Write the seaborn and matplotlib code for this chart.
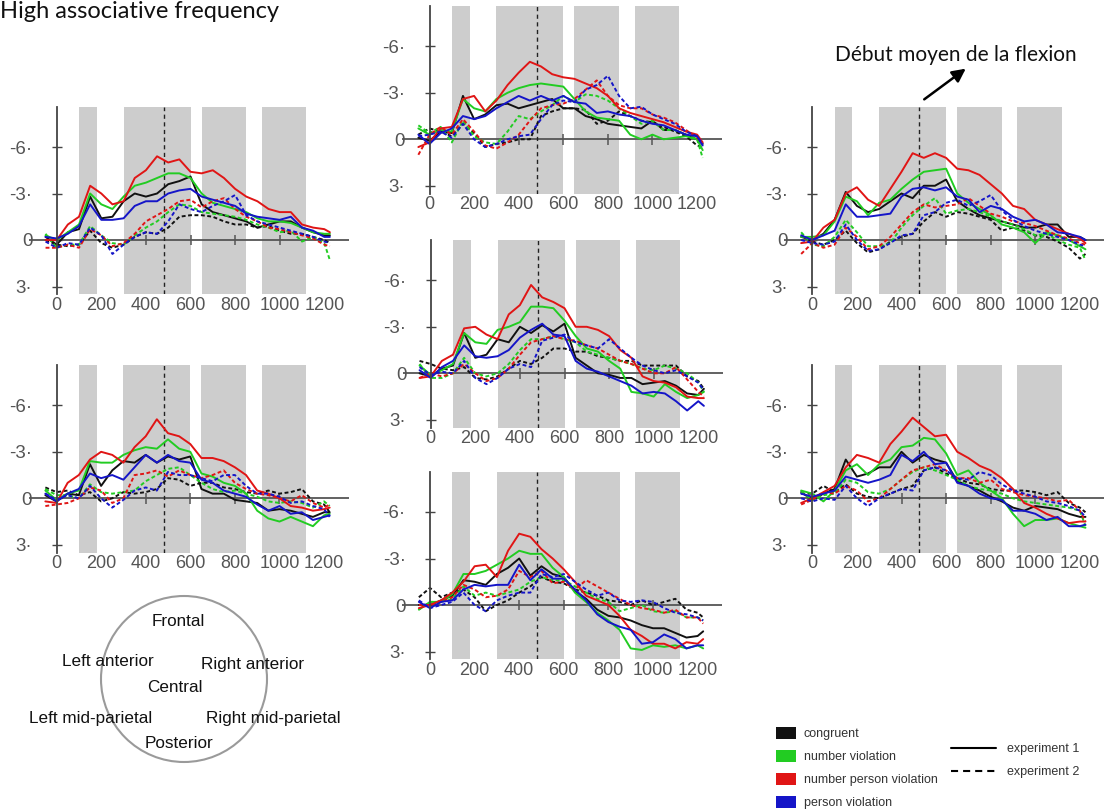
import numpy as np
import pandas as pd
import matplotlib.pyplot as plt
import seaborn as sns
from matplotlib.patches import Patch, Circle
from matplotlib.lines import Line2D

times = [-50, 0, 50, 100, 150, 200, 250, 300, 350, 400, 450, 500, 550, 600, 650,
         700, 750, 800, 850, 900, 950, 1000, 1050, 1100, 1150, 1200, 1225]

conds = ['congruent', 'number violation', 'number person violation', 'person violation']
colors = ['#111111', '#22cc22', '#e01515', '#1515c8']
exps = ['experiment 1', 'experiment 2']
xtick_vals = [0, 200, 400, 600, 800, 1000, 1200]
ytick_vals = [-6, -3, 0, 3]
ytick_text = ['-6\u00b7', '-3\u00b7', '0', '3\u00b7']
bands = [(100, 180), (300, 600), (650, 850), (920, 1120)]
onset = 480

# Left anterior
la_cong_1 = [-0.2, 0.3, -0.5, -0.7, -2.8, -1.4, -1.5, -2.5, -3.0, -2.8, -3.0, -3.6, -3.8, -4.1, -2.3, -1.8, -1.6, -1.4, -1.2, -0.8, -1.0, -1.2, -1.2, -0.8, -0.5, -0.3, -0.3]
la_num_1 = [-0.3, 0.0, -0.5, -1.0, -3.0, -2.3, -2.0, -2.8, -3.5, -3.7, -4.0, -4.3, -4.3, -4.0, -3.0, -2.4, -2.2, -2.0, -1.8, -1.4, -1.2, -1.2, -1.1, -0.8, -0.5, -0.4, -0.4]
la_numper_1 = [0.0, 0.0, -1.0, -1.5, -3.5, -3.0, -2.3, -2.5, -4.0, -4.5, -5.4, -5.0, -5.2, -4.4, -4.3, -4.5, -4.0, -3.3, -2.8, -2.5, -2.0, -1.8, -1.8, -1.0, -0.8, -0.7, -0.5]
la_per_1 = [-0.2, -0.1, -0.4, -0.9, -2.3, -1.3, -1.3, -1.4, -2.2, -2.5, -2.5, -3.0, -3.2, -3.3, -2.8, -2.6, -2.4, -2.2, -1.7, -1.5, -1.4, -1.3, -1.5, -0.8, -0.6, -0.2, -0.2]
la_cong_2 = [0.0, 0.3, 0.4, 0.3, -0.6, 0.2, 0.5, 0.3, -0.2, -0.5, -0.4, -0.8, -1.5, -1.6, -1.6, -1.5, -1.2, -1.0, -1.0, -0.8, -0.9, -0.6, -0.4, -0.4, -0.2, 0.0, 0.2]
la_num_2 = [-0.4, 0.5, 0.3, 0.3, -0.9, -0.3, 0.2, 0.3, -0.3, -0.8, -1.2, -1.8, -2.3, -2.2, -1.8, -1.7, -1.6, -1.5, -1.3, -1.0, -0.8, -0.5, -0.6, 0.1, -0.2, 0.2, 1.3]
la_numper_2 = [0.5, 0.5, 0.3, 0.5, -0.7, -0.3, 0.4, 0.2, -0.4, -1.2, -1.6, -2.0, -2.5, -2.6, -2.1, -2.5, -2.7, -2.0, -1.5, -1.2, -0.8, -0.7, -0.5, -0.3, -0.1, 0.3, 0.4]
la_per_2 = [0.1, 0.5, 0.2, 0.3, -0.8, -0.3, 0.9, 0.3, -0.2, -0.5, -0.4, -1.2, -2.3, -2.0, -1.8, -2.2, -2.5, -2.9, -1.6, -1.2, -1.0, -0.8, -0.6, -0.4, -0.2, 0.1, 0.2]

# Frontal
fr_cong_1 = [-0.1, 0.1, -0.5, -0.4, -2.8, -1.3, -1.6, -2.2, -2.3, -2.0, -2.2, -2.4, -2.6, -2.0, -2.0, -1.5, -1.3, -1.0, -0.9, -0.8, -0.7, -1.2, -0.6, -0.6, -0.3, 0.0, 0.3]
fr_num_1 = [-0.7, -0.3, -0.6, -0.5, -2.6, -2.0, -1.8, -2.6, -3.0, -3.3, -3.5, -3.6, -3.5, -3.4, -2.6, -1.8, -1.4, -1.3, -1.2, -0.3, 0.0, -0.3, 0.0, -0.1, -0.2, 0.0, 0.7]
fr_numper_1 = [0.5, 0.2, -0.7, -0.8, -2.6, -2.8, -1.8, -2.5, -3.5, -4.3, -5.0, -4.7, -4.2, -4.0, -3.9, -3.6, -3.3, -2.8, -2.0, -1.7, -1.5, -1.3, -1.1, -0.8, -0.5, -0.3, 0.2]
fr_per_1 = [-0.3, 0.3, -0.4, -0.7, -1.5, -1.3, -1.5, -2.0, -2.4, -2.8, -2.5, -2.8, -2.5, -2.8, -2.4, -2.3, -1.7, -1.8, -1.6, -1.5, -1.2, -1.0, -0.9, -0.6, -0.3, -0.2, 0.4]
fr_cong_2 = [-0.3, -0.7, -0.5, -0.2, -1.0, -0.4, 0.5, 0.3, 0.2, 0.0, 0.0, -1.5, -1.8, -2.0, -2.0, -1.9, -1.0, -1.2, -1.8, -1.5, -1.2, -1.1, -0.8, -0.5, -0.2, 0.4, 0.5]
fr_num_2 = [-0.9, -0.4, -0.8, 0.2, -1.2, -0.2, 0.2, 0.3, -0.5, -1.5, -1.3, -1.8, -2.2, -2.8, -2.4, -2.9, -2.8, -2.5, -2.0, -1.5, -1.0, -1.2, -0.6, -0.6, -0.3, 0.0, 1.2]
fr_numper_2 = [1.0, -0.3, -0.8, -0.3, -1.3, -0.5, 0.4, 0.6, 0.2, -0.3, -1.2, -2.0, -2.2, -2.3, -2.6, -3.2, -3.8, -2.8, -2.2, -2.0, -2.0, -1.6, -1.4, -1.1, -0.6, -0.1, 0.3]
fr_per_2 = [-0.2, -0.3, -0.5, -0.1, -1.0, 0.0, 0.5, 0.3, 0.0, -0.2, -0.3, -1.3, -2.2, -2.5, -2.4, -3.2, -3.5, -4.1, -2.8, -2.0, -2.1, -1.6, -1.3, -1.0, -0.5, -0.2, 0.3]

# Right anterior
ra_cong_1 = [-0.2, 0.0, -0.4, -1.3, -3.1, -2.2, -1.8, -2.0, -2.5, -3.0, -2.7, -3.5, -3.5, -3.9, -2.5, -2.0, -1.6, -1.4, -1.2, -1.0, -0.8, -0.8, -1.0, -1.0, -0.2, -0.2, 0.0]
ra_num_1 = [-0.2, -0.2, -0.3, -1.2, -2.8, -2.5, -1.6, -2.4, -2.6, -3.3, -3.9, -4.4, -4.5, -4.6, -3.0, -2.4, -2.0, -1.6, -1.0, -0.8, -0.5, 0.2, -0.5, -0.3, 0.0, 0.4, 0.6]
ra_numper_1 = [0.2, 0.1, -0.8, -1.3, -3.0, -3.4, -2.6, -2.2, -3.3, -4.4, -5.6, -5.3, -5.6, -5.3, -4.6, -4.5, -4.2, -3.6, -3.0, -2.2, -2.0, -1.3, -1.0, -0.7, -0.4, -0.1, 0.2]
ra_per_1 = [-0.3, 0.0, -0.3, -0.6, -2.3, -1.5, -1.5, -1.6, -1.7, -2.8, -3.3, -3.4, -3.2, -3.4, -2.8, -2.6, -1.8, -2.2, -2.0, -1.5, -1.2, -1.3, -1.0, -0.5, -0.4, -0.2, 0.0]
ra_cong_2 = [-0.3, 0.1, 0.3, 0.0, -0.6, 0.2, 0.8, 0.6, 0.1, -0.2, -0.4, -1.2, -1.8, -1.5, -1.8, -1.7, -1.5, -1.3, -0.6, -0.8, -0.6, -0.3, -0.2, 0.1, 0.5, 1.2, 0.9]
ra_num_2 = [-0.5, 0.3, 0.4, -0.2, -1.3, -0.5, 0.4, 0.4, 0.2, -0.8, -1.6, -2.2, -2.7, -1.7, -1.9, -2.0, -1.8, -1.5, -1.2, -1.0, -0.7, -0.3, -0.4, 0.0, 0.3, 0.5, 1.3]
ra_numper_2 = [0.9, 0.2, 0.5, 0.3, -0.8, -0.2, 0.6, 0.4, -0.2, -1.0, -1.8, -2.3, -2.1, -2.2, -2.3, -2.7, -2.2, -1.7, -1.5, -1.2, -1.1, -0.9, -0.6, -0.3, -0.1, 0.2, 0.3]
ra_per_2 = [0.0, 0.2, 0.3, 0.1, -1.0, 0.0, 0.7, 0.6, 0.2, -0.3, -0.4, -1.6, -1.8, -2.4, -2.6, -2.2, -2.5, -2.9, -1.9, -1.3, -0.9, -0.6, -0.4, -0.2, 0.0, 0.3, 0.4]

# Central
ce_cong_1 = [0.0, 0.2, -0.3, -0.5, -2.6, -1.0, -1.2, -2.2, -2.0, -3.0, -2.6, -3.1, -2.7, -3.2, -1.0, -0.5, 0.0, 0.1, 0.3, 0.3, 0.7, 0.6, 0.5, 0.8, 1.3, 1.4, 1.0]
ce_num_1 = [-0.5, 0.1, -0.2, -0.6, -2.6, -2.0, -1.9, -2.8, -3.0, -3.3, -4.3, -4.3, -4.2, -3.4, -2.4, -1.6, -1.4, -0.8, -0.3, 1.2, 1.3, 1.5, 0.7, 1.2, 1.6, 1.4, 1.2]
ce_numper_1 = [0.3, 0.2, -0.8, -1.2, -2.9, -3.0, -2.5, -2.2, -3.8, -4.4, -5.7, -4.9, -4.6, -4.2, -3.0, -3.0, -2.8, -2.4, -1.5, -1.0, 0.2, 0.5, 0.6, 0.9, 1.5, 1.6, 1.6]
ce_per_1 = [-0.2, 0.3, -0.4, -0.8, -1.8, -1.1, -1.0, -1.1, -1.5, -2.3, -2.8, -3.2, -2.5, -2.4, -0.8, -0.3, -0.1, 0.2, 0.5, 0.8, 1.3, 1.2, 1.3, 1.8, 2.4, 1.8, 2.1]
ce_cong_2 = [-0.8, -0.6, -0.3, -0.2, -0.4, 0.3, 0.4, 0.2, -0.3, -0.8, -0.6, -1.0, -1.6, -1.6, -1.4, -1.4, -1.1, -1.0, -0.8, -0.8, -0.5, -0.5, -0.5, -0.5, 0.2, 0.5, 1.0]
ce_num_2 = [-0.6, 0.3, 0.3, 0.0, -1.0, 0.0, 0.2, 0.0, -0.6, -1.5, -2.2, -2.2, -2.4, -2.2, -2.0, -1.4, -1.2, -1.0, -0.8, -0.6, -0.3, -0.2, -0.5, -0.3, 0.0, 0.6, 1.2]
ce_numper_2 = [0.3, 0.0, 0.2, 0.0, -0.6, 0.0, 0.5, 0.3, -0.3, -1.2, -2.0, -2.2, -2.4, -2.2, -2.1, -1.8, -1.6, -1.2, -0.8, -0.6, -0.3, 0.0, 0.0, -0.4, 0.4, 1.2, 1.5]
ce_per_2 = [-0.4, 0.1, -0.1, 0.0, -0.8, 0.3, 0.7, 0.3, -0.3, -0.6, -0.4, -2.1, -2.3, -2.5, -2.0, -1.8, -1.6, -2.2, -1.6, -1.0, -0.5, -0.2, 0.0, -0.2, 0.2, 0.6, 1.1]

# Left mid-parietal
lm_cong_1 = [-0.2, 0.2, -0.3, -0.2, -2.2, -0.8, -1.8, -2.4, -2.3, -2.8, -2.3, -2.7, -2.5, -2.7, -0.6, -0.3, -0.3, 0.1, 0.2, 0.3, 0.8, 0.7, 0.8, 1.0, 1.2, 0.9, 0.9]
lm_num_1 = [-0.5, 0.1, -0.3, -0.5, -2.4, -2.3, -2.3, -2.8, -3.1, -3.3, -3.2, -3.8, -3.2, -3.0, -1.6, -1.4, -1.0, -0.8, -0.3, 0.8, 1.3, 1.5, 1.2, 1.5, 1.8, 1.1, 1.0]
lm_numper_1 = [0.2, 0.3, -1.0, -1.5, -2.5, -3.0, -2.8, -2.3, -3.3, -4.0, -5.1, -4.2, -4.0, -3.5, -2.6, -2.6, -2.4, -2.0, -1.5, -0.5, -0.3, 0.0, 0.5, 0.6, 0.8, 0.7, 0.6]
lm_per_1 = [-0.3, 0.2, -0.3, -0.6, -1.6, -1.3, -1.5, -1.2, -2.0, -2.8, -2.3, -2.8, -2.4, -2.3, -1.2, -1.0, -0.5, -0.3, -0.1, 0.4, 0.8, 0.5, 1.0, 0.9, 1.4, 1.2, 1.1]
lm_cong_2 = [-0.7, -0.4, -0.5, -0.2, -0.4, 0.2, 0.0, -0.4, -0.3, -0.4, -0.6, -1.3, -1.2, -0.8, -1.0, -1.0, -0.7, -0.6, -0.4, -0.3, -0.5, -0.3, -0.4, -0.6, 0.2, 0.4, 0.9]
lm_num_2 = [-0.6, -0.2, -0.2, 0.0, -0.9, -0.4, -0.3, -0.4, -0.5, -1.1, -1.5, -1.9, -2.0, -1.5, -1.0, -0.6, -0.4, -0.5, -0.3, -0.1, 0.2, 0.3, 0.2, 0.3, 0.6, 0.2, 0.5]
lm_numper_2 = [0.5, 0.4, 0.3, 0.0, -0.7, -0.5, 0.3, 0.0, -1.5, -1.6, -1.8, -1.4, -1.8, -1.5, -1.3, -1.5, -1.8, -1.0, -0.6, -0.3, -0.2, 0.0, 0.2, -0.2, 0.3, 0.6, 0.4]
lm_per_2 = [-0.3, 0.1, -0.2, 0.0, -0.8, 0.0, 0.6, 0.1, -0.5, -0.7, -0.5, -1.7, -1.5, -1.5, -1.3, -1.1, -1.5, -1.5, -0.8, -0.3, -0.3, -0.1, 0.3, 0.2, 0.5, 0.7, 1.2]

# Right mid-parietal
rm_cong_1 = [-0.4, 0.1, -0.3, -0.6, -2.5, -1.4, -1.6, -2.0, -2.0, -3.0, -2.3, -2.8, -2.5, -2.3, -1.1, -0.8, -0.5, -0.1, 0.2, 0.6, 0.8, 0.5, 0.6, 0.7, 1.0, 1.2, 1.2]
rm_num_1 = [-0.5, -0.3, 0.2, -0.5, -1.8, -2.2, -1.5, -2.2, -2.5, -3.3, -3.4, -3.9, -3.8, -2.9, -1.5, -1.8, -1.0, -0.5, 0.0, 1.0, 1.8, 1.4, 1.4, 1.3, 1.6, 1.8, 1.9]
rm_numper_1 = [0.3, 0.0, -0.4, -0.8, -2.0, -2.8, -2.6, -2.3, -3.5, -4.3, -5.2, -4.6, -4.0, -4.1, -3.0, -2.6, -2.1, -1.8, -1.3, -0.6, 0.3, 0.6, 1.0, 1.3, 1.6, 1.5, 1.5]
rm_per_1 = [-0.3, -0.1, -0.3, -0.5, -1.4, -1.2, -1.0, -1.2, -1.5, -2.8, -2.4, -3.0, -2.2, -2.3, -1.0, -0.8, -0.3, 0.0, 0.1, 0.8, 0.8, 1.0, 1.4, 1.2, 1.8, 1.8, 1.7]
rm_cong_2 = [-0.3, -0.3, -0.8, -0.4, -0.9, -0.3, -0.1, 0.0, -0.3, -0.6, -0.8, -1.8, -2.0, -1.6, -1.3, -1.0, -0.9, -0.6, -0.5, -0.5, -0.5, -0.4, -0.2, -0.4, 0.3, 0.6, 0.9]
rm_num_2 = [-0.4, 0.1, -0.2, -0.3, -1.2, -1.0, -0.4, -0.3, -0.6, -1.2, -1.7, -2.0, -1.8, -1.5, -1.2, -0.8, -0.6, -0.5, -0.3, 0.0, 0.2, 0.3, 0.4, 0.5, 0.6, 0.8, 1.8]
rm_numper_2 = [0.4, 0.1, -0.4, -0.3, -0.8, -0.5, 0.2, 0.0, -0.6, -1.2, -1.8, -2.0, -2.2, -1.8, -1.3, -1.3, -1.0, -1.2, -0.6, -0.4, -0.2, -0.1, 0.0, 0.2, 0.1, 0.8, 1.5]
rm_per_2 = [0.0, 0.2, 0.0, 0.1, -0.8, 0.0, 0.5, 0.0, -0.3, -0.6, -0.5, -1.8, -2.0, -1.8, -1.3, -1.2, -1.7, -1.5, -0.9, -0.5, -0.3, -0.1, 0.2, 0.3, 0.5, 0.8, 1.2]

# Posterior
po_cong_1 = [0.0, 0.0, -0.3, -0.6, -1.6, -1.5, -1.3, -2.0, -2.4, -3.0, -1.9, -2.5, -2.0, -1.8, -0.9, -0.4, 0.3, 0.7, 0.8, 1.0, 1.3, 1.5, 1.5, 1.8, 2.1, 2.0, 1.7]
po_num_1 = [0.3, -0.2, -0.2, -0.7, -2.0, -2.0, -2.2, -2.6, -3.0, -3.5, -3.3, -3.3, -2.4, -1.8, -0.8, -0.2, 0.5, 1.0, 1.6, 2.8, 2.9, 2.6, 2.7, 2.6, 2.8, 2.6, 2.8]
po_numper_1 = [0.2, 0.0, -0.3, -0.8, -1.5, -2.5, -2.6, -1.8, -3.5, -4.6, -4.4, -3.6, -3.0, -2.3, -1.5, -0.6, -0.3, 0.0, 0.7, 1.6, 2.0, 2.5, 2.5, 2.8, 2.4, 2.5, 2.2]
po_per_1 = [-0.2, 0.2, -0.2, -0.3, -1.0, -1.3, -1.2, -1.3, -1.3, -2.6, -1.6, -2.3, -1.7, -1.7, -1.0, -0.3, 0.6, 1.1, 1.4, 1.6, 2.5, 2.4, 1.9, 2.2, 2.8, 2.6, 2.6]
po_cong_2 = [-0.5, -1.1, -0.5, -0.8, -1.0, -0.5, 0.4, 0.0, -0.3, -0.8, -1.2, -1.8, -1.5, -1.4, -1.0, -0.8, -0.6, -0.3, -0.2, 0.0, -0.3, 0.0, -0.2, -0.4, 0.3, 0.5, 0.8]
po_num_2 = [0.3, -0.2, -0.2, -0.4, -1.2, -0.6, -0.8, -0.6, -0.8, -1.0, -1.5, -1.8, -1.6, -1.6, -1.2, -0.8, -0.4, -0.2, 0.4, 0.2, 0.0, 0.4, 0.5, 0.4, 0.8, 0.8, 1.0]
po_numper_2 = [0.0, 0.0, -0.2, -0.5, -1.3, -1.0, -0.5, -0.6, -1.0, -2.2, -1.8, -2.2, -1.4, -1.5, -1.0, -1.6, -1.2, -0.8, -0.4, 0.0, 0.2, 0.3, 0.5, 0.3, 0.8, 0.8, 1.2]
po_per_2 = [-0.3, 0.2, 0.0, -0.2, -0.8, 0.0, 0.4, -0.3, -0.6, -0.8, -0.8, -2.0, -1.8, -2.0, -1.5, -1.0, -0.6, -0.8, -0.3, -0.2, -0.3, -0.2, 0.2, 0.5, 0.6, 0.8, 1.0]

sns.set_theme(style='white')
plt.rcParams['font.family'] = ['Liberation Sans', 'DejaVu Sans']

W, H = 1111, 809
fig = plt.figure(figsize=(W / 100, H / 100), dpi=100)

# pixel scale of every panel and where its (0 ms, 0 uV) point sits
px_ms, px_uv = 0.223, 15.5
xmin, xmax = -125, 1310
ytop, ybot = -8.6, 3.5

panels = [
    ((56.7, 240.0), [la_cong_1, la_num_1, la_numper_1, la_per_1], [la_cong_2, la_num_2, la_numper_2, la_per_2]),
    ((429.5, 139.3), [fr_cong_1, fr_num_1, fr_numper_1, fr_per_1], [fr_cong_2, fr_num_2, fr_numper_2, fr_per_2]),
    ((812.3, 240.0), [ra_cong_1, ra_num_1, ra_numper_1, ra_per_1], [ra_cong_2, ra_num_2, ra_numper_2, ra_per_2]),
    ((430.7, 373.3), [ce_cong_1, ce_num_1, ce_numper_1, ce_per_1], [ce_cong_2, ce_num_2, ce_numper_2, ce_per_2]),
    ((56.5, 498.3), [lm_cong_1, lm_num_1, lm_numper_1, lm_per_1], [lm_cong_2, lm_num_2, lm_numper_2, lm_per_2]),
    ((812.3, 498.3), [rm_cong_1, rm_num_1, rm_numper_1, rm_per_1], [rm_cong_2, rm_num_2, rm_numper_2, rm_per_2]),
    ((430.0, 605.0), [po_cong_1, po_num_1, po_numper_1, po_per_1], [po_cong_2, po_num_2, po_numper_2, po_per_2]),
]

for (x0, y0), exp1, exp2 in panels:
    left = x0 + xmin * px_ms
    top = y0 + ytop * px_uv
    bottom = y0 + ybot * px_uv
    ax = fig.add_axes([left / W, 1 - bottom / H, (xmax - xmin) * px_ms / W, (bottom - top) / H])

    frames = []
    for e, series in zip(exps, [exp1, exp2]):
        for c, vals in zip(conds, series):
            frames.append(pd.DataFrame({'time': times, 'uv': vals, 'cond': c, 'exp': e}))
    df = pd.concat(frames, ignore_index=True)

    for a, b in bands:
        ax.axvspan(a, b, color='#cdcdcd', lw=0, zorder=0)
    ax.axhline(0, color='#555555', lw=1.3, zorder=1)
    ax.vlines([400, 600, 800, 1000], -0.35, 0.35, color='#555555', lw=1.1, zorder=1)
    ax.axvline(onset, color='#222222', lw=1.0, ls=(0, (3, 2.5)), zorder=1)

    sns.lineplot(data=df, x='time', y='uv', hue='cond', style='exp',
                 hue_order=conds, palette=colors, style_order=exps,
                 dashes={'experiment 1': '', 'experiment 2': (2, 1.3)},
                 estimator=None, linewidth=1.4, legend=False, ax=ax, zorder=2)

    ax.set_xlim(xmin, xmax)
    ax.set_ylim(ybot, ytop)
    ax.set_facecolor('none')
    for s in ['top', 'right', 'bottom']:
        ax.spines[s].set_visible(False)
    ax.spines['left'].set_position(('data', 0))
    ax.spines['left'].set_color('#444444')
    ax.spines['left'].set_linewidth(1.3)
    ax.set_yticks(ytick_vals)
    ax.set_yticklabels(ytick_text)
    ax.set_xticks(xtick_vals)
    ax.set_xticklabels([str(v) for v in xtick_vals])
    ax.tick_params(axis='y', direction='inout', length=7, width=1, color='#444444',
                   labelcolor='#555555', labelsize=13.5, pad=14, left=True)
    ax.tick_params(axis='x', length=0, labelcolor='#555555', labelsize=13, pad=2, bottom=True)
    ax.set_xlabel('')
    ax.set_ylabel('')

# overlay in pixel coordinates for the annotations
ov = fig.add_axes([0, 0, 1, 1])
ov.set_xlim(0, W)
ov.set_ylim(H, 0)
ov.axis('off')

ov.text(0, 18, 'High associative frequency', fontsize=17, family=['Lato', 'DejaVu Sans'],
        va='baseline', ha='left', color='#111111')
ov.text(835, 61, 'D\u00e9but moyen de la flexion', fontsize=15, family=['Lato', 'DejaVu Sans'],
        va='baseline', ha='left', color='#111111')
ov.annotate('', xy=(968, 67), xytext=(922, 101),
            arrowprops=dict(arrowstyle='-|>', color='black', lw=1.8, mutation_scale=20))

ov.add_patch(Circle((184, 679), 83, fill=False, edgecolor='#9a9a9a', lw=1.5))
regions = ['Frontal', 'Left anterior', 'Right anterior', 'Central',
           'Left mid-parietal', 'Right mid-parietal', 'Posterior']
region_xy = [(178, 622), (108, 661), (253, 664), (175, 687), (91, 719), (273, 719), (179, 744)]
for name, (x, y) in zip(regions, region_xy):
    ov.text(x, y, name, fontsize=12.3, ha='center', va='center', color='#111111')

cond_handles = [Patch(facecolor=c, edgecolor='none') for c in colors]
fig.legend(cond_handles, conds, loc='upper left', bbox_to_anchor=(776 / W, 1 - 727 / H),
           frameon=False, fontsize=9, handlelength=1.6, handleheight=1.05,
           handletextpad=0.6, labelspacing=0.8, borderpad=0, borderaxespad=0,
           labelcolor='#333333')

exp_handles = [Line2D([], [], color='black', lw=1.5),
               Line2D([], [], color='black', lw=1.5, ls=(0, (3.4, 2.4)))]
fig.legend(exp_handles, exps, loc='upper left', bbox_to_anchor=(951 / W, 1 - 743 / H),
           frameon=False, fontsize=9, handlelength=3.6, handletextpad=0.9,
           labelspacing=0.9, borderpad=0, borderaxespad=0, labelcolor='#333333')

fig.savefig('out.png', dpi=100)
